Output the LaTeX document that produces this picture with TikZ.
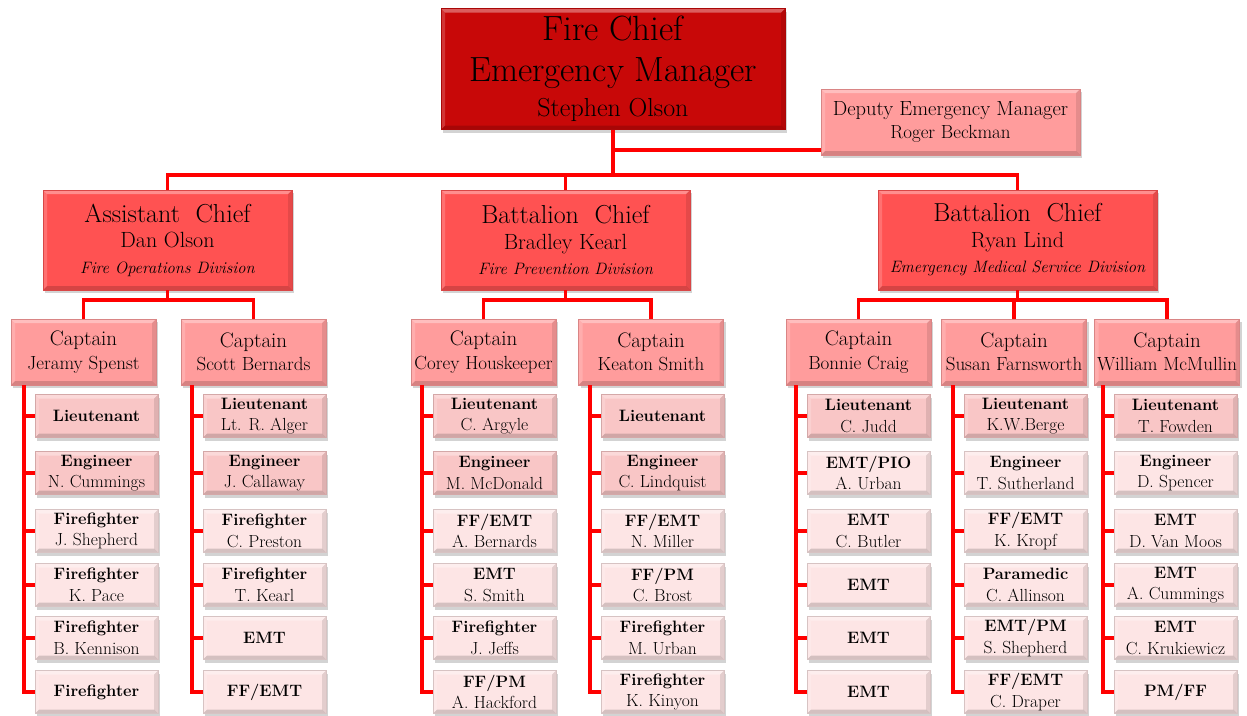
\documentclass[tikz,border=0pt]{standalone}
\usetikzlibrary{shadows,calc}
\definecolor{chiefred}{HTML}{C80808}
\definecolor{midred}{HTML}{FF5252}
\definecolor{captred}{HTML}{FF9C9C}
\definecolor{subA}{HTML}{F9C6C6}
\definecolor{subB}{HTML}{FDE5E5}
\definecolor{linered}{HTML}{FF0000}
\tikzset{
  bevel/.style={path picture={
    \coordinate (nw) at (path picture bounding box.north west);
    \coordinate (ne) at (path picture bounding box.north east);
    \coordinate (sw) at (path picture bounding box.south west);
    \coordinate (se) at (path picture bounding box.south east);
    \fill[white,opacity=0.35] (nw) -- (ne) -- ($(ne)+(-4pt,-4pt)$) -- ($(nw)+(4pt,-4pt)$) -- cycle;
    \fill[white,opacity=0.18] (nw) -- (sw) -- ($(sw)+(4pt,4pt)$) -- ($(nw)+(4pt,-4pt)$) -- cycle;
    \fill[black,opacity=0.10] (ne) -- (se) -- ($(se)+(-4pt,4pt)$) -- ($(ne)+(-4pt,-4pt)$) -- cycle;
    \fill[black,opacity=0.16] (sw) -- (se) -- ($(se)+(-4pt,4pt)$) -- ($(sw)+(4pt,4pt)$) -- cycle;
  }},
  box/.style={rectangle, draw=#1!85!black, line width=0.6pt, fill=#1, bevel,
    drop shadow={opacity=0.35,shadow xshift=2pt,shadow yshift=-3pt},
    align=center, inner sep=0pt, text=black},
  chiefbox/.style={box=chiefred, minimum width=344pt, minimum height=121pt, font=\fontsize{35}{39}\selectfont},
  deputybox/.style={box=captred, minimum width=259pt, minimum height=66pt, font=\fontsize{19}{23}\selectfont},
  divbox/.style={box=midred, minimum width=249pt, minimum height=100pt, font=\fontsize{22}{25.5}\selectfont},
  captbox/.style={box=captred, minimum width=145pt, minimum height=66pt, font=\fontsize{19}{23.5}\selectfont},
  subbox/.style={box=#1, minimum width=123pt, minimum height=43pt, font=\fontsize{17.5}{21.5}\selectfont},
  conn/.style={draw=linered, line width=3.6pt, line join=miter}
}
\newcommand\sbx[5]{\node[subbox=#4] (#1) at (#2,#3) {#5};}
\newcommand\tl[1]{{\fontsize{16.5}{21.5}\selectfont\bfseries #1}}
\begin{document}
\begin{tikzpicture}[x=1pt,y=-1pt]
\useasboundingbox (0,0) rectangle (1247,715);
\coordinate (bus) at (613,175);
\coordinate (dj) at (613,150);
% boxes
\node[chiefbox] (chief) at (613,69) {Fire Chief\\[2pt] Emergency Manager\\[-4pt] {\fontsize{26}{30}\selectfont Stephen Olson}};
\node[deputybox] (deputy) at (950.5,122) {{\fontsize{20.5}{23}\selectfont Deputy Emergency Manager}\\ Roger Beckman};
\node[divbox] (ac) at (167.5,240) {{\fontsize{26}{26}\selectfont Assistant\hspace{0.3em} Chief}\\ Dan Olson\\ {\fontsize{16.5}{24}\selectfont\itshape Fire Operations Division}};
\node[divbox] (bc1) at (565.5,240) {{\fontsize{26}{26}\selectfont Battalion\hspace{0.3em} Chief}\\ Bradley Kearl\\ {\fontsize{16.5}{24}\selectfont\itshape Fire Prevention Division}};
\node[divbox, minimum width=279pt] (bc2) at (1017.5,240) {{\fontsize{26}{26}\selectfont Battalion\hspace{0.3em} Chief}\\ Ryan Lind\\ {\fontsize{16.5}{24}\selectfont\itshape Emergency Medical Service Division}};
\foreach \n/\x/\nm in {cap1/83.5/Jeramy Spenst, cap2/253.5/Scott Bernards, cap3/483.5/Corey Houskeeper, cap4/651/Keaton Smith, cap5/858.5/Bonnie Craig, cap6/1014/Susan Farnsworth, cap7/1167/William McMullin}
  \node[captbox] (\n) at (\x,352) {{\fontsize{21}{23.5}\selectfont Captain}\\ \nm};
% column 1
\sbx{a1}{96.5}{416}{subA}{\tl{Lieutenant}}
\sbx{a2}{96.5}{473}{subA}{\tl{Engineer}\\N. Cummings}
\sbx{a3}{96.5}{531}{subB}{\tl{Firefighter}\\J. Shepherd}
\sbx{a4}{96.5}{585}{subB}{\tl{Firefighter}\\K. Pace}
\sbx{a5}{96.5}{638}{subB}{\tl{Firefighter}\\B. Kennison}
\sbx{a6}{96.5}{692}{subB}{\tl{Firefighter}}
% column 2
\sbx{b1}{264.5}{416}{subA}{\tl{Lieutenant}\\Lt. R. Alger}
\sbx{b2}{264.5}{473}{subA}{\tl{Engineer}\\J. Callaway}
\sbx{b3}{264.5}{531}{subB}{\tl{Firefighter}\\C. Preston}
\sbx{b4}{264.5}{585}{subB}{\tl{Firefighter}\\T. Kearl}
\sbx{b5}{264.5}{638}{subB}{\tl{EMT}}
\sbx{b6}{264.5}{692}{subB}{\tl{FF/EMT}}
% column 3
\sbx{c1}{494.5}{416}{subA}{\tl{Lieutenant}\\C. Argyle}
\sbx{c2}{494.5}{473}{subA}{\tl{Engineer}\\M. McDonald}
\sbx{c3}{494.5}{531}{subB}{\tl{FF/EMT}\\A. Bernards}
\sbx{c4}{494.5}{585}{subB}{\tl{EMT}\\S. Smith}
\sbx{c5}{494.5}{638}{subB}{\tl{Firefighter}\\J. Jeffs}
\sbx{c6}{494.5}{692}{subB}{\tl{FF/PM}\\A. Hackford}
% column 4
\sbx{d1}{662.5}{416}{subA}{\tl{Lieutenant}}
\sbx{d2}{662.5}{473}{subA}{\tl{Engineer}\\C. Lindquist}
\sbx{d3}{662.5}{531}{subB}{\tl{FF/EMT}\\N. Miller}
\sbx{d4}{662.5}{585}{subB}{\tl{FF/PM}\\C. Brost}
\sbx{d5}{662.5}{638}{subB}{\tl{Firefighter}\\M. Urban}
\sbx{d6}{662.5}{692}{subB}{\tl{Firefighter}\\K. Kinyon}
% column 5
\sbx{e1}{868.5}{416}{subA}{\tl{Lieutenant}\\C. Judd}
\sbx{e2}{868.5}{473}{subB}{\tl{EMT/PIO}\\A. Urban}
\sbx{e3}{868.5}{531}{subB}{\tl{EMT}\\C. Butler}
\sbx{e4}{868.5}{585}{subB}{\tl{EMT}}
\sbx{e5}{868.5}{638}{subB}{\tl{EMT}}
\sbx{e6}{868.5}{692}{subB}{\tl{EMT}}
% column 6
\sbx{f1}{1025.5}{416}{subA}{\tl{Lieutenant}\\K.W.Berge}
\sbx{f2}{1025.5}{473}{subB}{\tl{Engineer}\\T. Sutherland}
\sbx{f3}{1025.5}{531}{subB}{\tl{FF/EMT}\\K. Kropf}
\sbx{f4}{1025.5}{585}{subB}{\tl{Paramedic}\\C. Allinson}
\sbx{f5}{1025.5}{638}{subB}{\tl{EMT/PM}\\S. Shepherd}
\sbx{f6}{1025.5}{692}{subB}{\tl{FF/EMT}\\C. Draper}
% column 7
\sbx{g1}{1175.5}{416}{subA}{\tl{Lieutenant}\\T. Fowden}
\sbx{g2}{1175.5}{473}{subB}{\tl{Engineer}\\D. Spencer}
\sbx{g3}{1175.5}{531}{subB}{\tl{EMT}\\D. Van Moos}
\sbx{g4}{1175.5}{585}{subB}{\tl{EMT}\\A. Cummings}
\sbx{g5}{1175.5}{638}{subB}{\tl{EMT}\\C. Krukiewicz}
\sbx{g6}{1175.5}{692}{subB}{\tl{PM/FF}}
% connectors
\draw[conn] (chief.south) -- (bus);
\draw[conn] (dj) -- (dj -| deputy.west);
\draw[conn] (ac.north) -- (ac.north |- bus) -- (bc2.north |- bus) -- (bc2.north);
\draw[conn] (bc1.north) -- (bc1.north |- bus);
\coordinate (cb) at (0,300);
\draw[conn] (ac.south) -- (ac.south |- cb);
\draw[conn] (cap1.north) -- (cap1.north |- cb) -- (cap2.north |- cb) -- (cap2.north);
\draw[conn] (bc1.south) -- (bc1.south |- cb);
\draw[conn] (cap3.north) -- (cap3.north |- cb) -- (cap4.north |- cb) -- (cap4.north);
\draw[conn] (bc2.south) -- (bc2.south |- cb);
\draw[conn] (cap5.north) -- (cap5.north |- cb) -- (cap7.north |- cb) -- (cap7.north);
\draw[conn] (cap6.north) -- (cap6.north |- cb);
\foreach \p/\cp in {a/cap1,b/cap2,c/cap3,d/cap4,e/cap5,f/cap6,g/cap7}{
  \coordinate (\p s) at ($(\p1.west)+(-11,0)$);
  \draw[conn] (\p s |- \cp.south) -- (\p s |- \p6.west) -- (\p6.west);
  \foreach \r in {1,...,5}
    \draw[conn] (\p\r.west) -- (\p\r.west -| \p s);
}
\end{tikzpicture}
\end{document}
